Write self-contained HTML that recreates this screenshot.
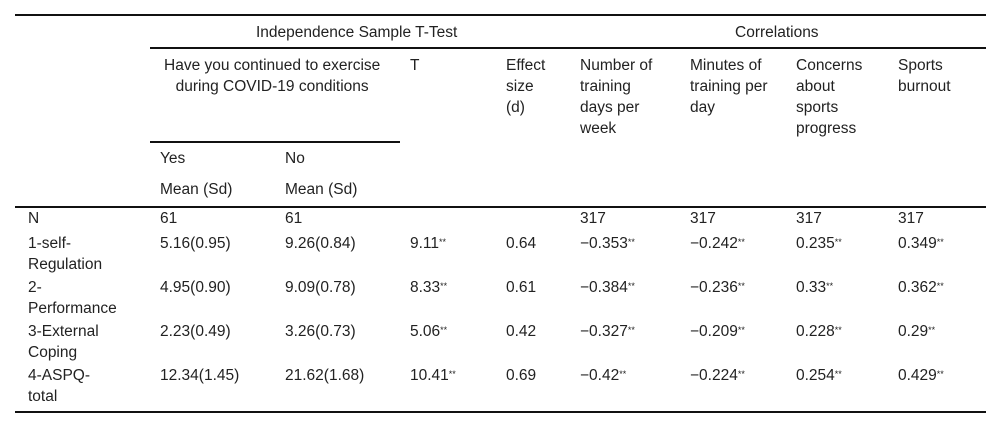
<!DOCTYPE html>
<html><head><meta charset="utf-8"><style>
body{margin:0;background:#fff;}
#t{position:relative;width:1000px;height:427px;font-family:"Liberation Sans",sans-serif;font-size:15.5px;color:#222;overflow:hidden;}
.x{position:absolute;white-space:nowrap;line-height:21px;transform:translateY(-10px);}
.l{position:absolute;height:1.5px;background:#111;}
sup{font-size:9px;vertical-align:3px;line-height:0;}
</style></head><body>
<div id="t">
<div class="l" style="left:15px;width:971px;top:14px"></div>
<div class="l" style="left:150px;width:836px;top:47px"></div>
<div class="l" style="left:150px;width:250px;top:141px"></div>
<div class="l" style="left:15px;width:971px;top:206px"></div>
<div class="l" style="left:15px;width:971px;top:411px"></div>

<div class="x" style="left:256px;top:32px">Independence Sample T-Test</div>
<div class="x" style="left:735px;top:32px">Correlations</div>
<div class="x" style="left:164px;top:65px;text-align:center">Have you continued to exercise<br>during COVID-19 conditions</div>
<div class="x" style="left:410px;top:65px">T</div>
<div class="x" style="left:506px;top:65px">Effect<br>size<br>(d)</div>
<div class="x" style="left:580px;top:65px">Number of<br>training<br>days per<br>week</div>
<div class="x" style="left:690px;top:65px">Minutes of<br>training per<br>day</div>
<div class="x" style="left:796px;top:65px">Concerns<br>about<br>sports<br>progress</div>
<div class="x" style="left:898px;top:65px">Sports<br>burnout</div>
<div class="x" style="left:160px;top:158px">Yes</div>
<div class="x" style="left:285px;top:158px">No</div>
<div class="x" style="left:160px;top:189px">Mean (Sd)</div>
<div class="x" style="left:285px;top:189px">Mean (Sd)</div>

<div class="x" style="left:28px;top:218px">N</div>
<div class="x" style="left:160px;top:218px">61</div>
<div class="x" style="left:285px;top:218px">61</div>
<div class="x" style="left:580px;top:218px">317</div>
<div class="x" style="left:690px;top:218px">317</div>
<div class="x" style="left:796px;top:218px">317</div>
<div class="x" style="left:898px;top:218px">317</div>

<div class="x" style="left:28px;top:243px">1-self-<br>Regulation</div>
<div class="x" style="left:160px;top:243px">5.16(0.95)</div>
<div class="x" style="left:285px;top:243px">9.26(0.84)</div>
<div class="x" style="left:410px;top:243px">9.11<sup>**</sup></div>
<div class="x" style="left:506px;top:243px">0.64</div>
<div class="x" style="left:580px;top:243px">−0.353<sup>**</sup></div>
<div class="x" style="left:690px;top:243px">−0.242<sup>**</sup></div>
<div class="x" style="left:796px;top:243px">0.235<sup>**</sup></div>
<div class="x" style="left:898px;top:243px">0.349<sup>**</sup></div>

<div class="x" style="left:28px;top:287px">2-<br>Performance</div>
<div class="x" style="left:160px;top:287px">4.95(0.90)</div>
<div class="x" style="left:285px;top:287px">9.09(0.78)</div>
<div class="x" style="left:410px;top:287px">8.33<sup>**</sup></div>
<div class="x" style="left:506px;top:287px">0.61</div>
<div class="x" style="left:580px;top:287px">−0.384<sup>**</sup></div>
<div class="x" style="left:690px;top:287px">−0.236<sup>**</sup></div>
<div class="x" style="left:796px;top:287px">0.33<sup>**</sup></div>
<div class="x" style="left:898px;top:287px">0.362<sup>**</sup></div>

<div class="x" style="left:28px;top:331px">3-External<br>Coping</div>
<div class="x" style="left:160px;top:331px">2.23(0.49)</div>
<div class="x" style="left:285px;top:331px">3.26(0.73)</div>
<div class="x" style="left:410px;top:331px">5.06<sup>**</sup></div>
<div class="x" style="left:506px;top:331px">0.42</div>
<div class="x" style="left:580px;top:331px">−0.327<sup>**</sup></div>
<div class="x" style="left:690px;top:331px">−0.209<sup>**</sup></div>
<div class="x" style="left:796px;top:331px">0.228<sup>**</sup></div>
<div class="x" style="left:898px;top:331px">0.29<sup>**</sup></div>

<div class="x" style="left:28px;top:375px">4-ASPQ-<br>total</div>
<div class="x" style="left:160px;top:375px">12.34(1.45)</div>
<div class="x" style="left:285px;top:375px">21.62(1.68)</div>
<div class="x" style="left:410px;top:375px">10.41<sup>**</sup></div>
<div class="x" style="left:506px;top:375px">0.69</div>
<div class="x" style="left:580px;top:375px">−0.42<sup>**</sup></div>
<div class="x" style="left:690px;top:375px">−0.224<sup>**</sup></div>
<div class="x" style="left:796px;top:375px">0.254<sup>**</sup></div>
<div class="x" style="left:898px;top:375px">0.429<sup>**</sup></div>
</div>
</body></html>
